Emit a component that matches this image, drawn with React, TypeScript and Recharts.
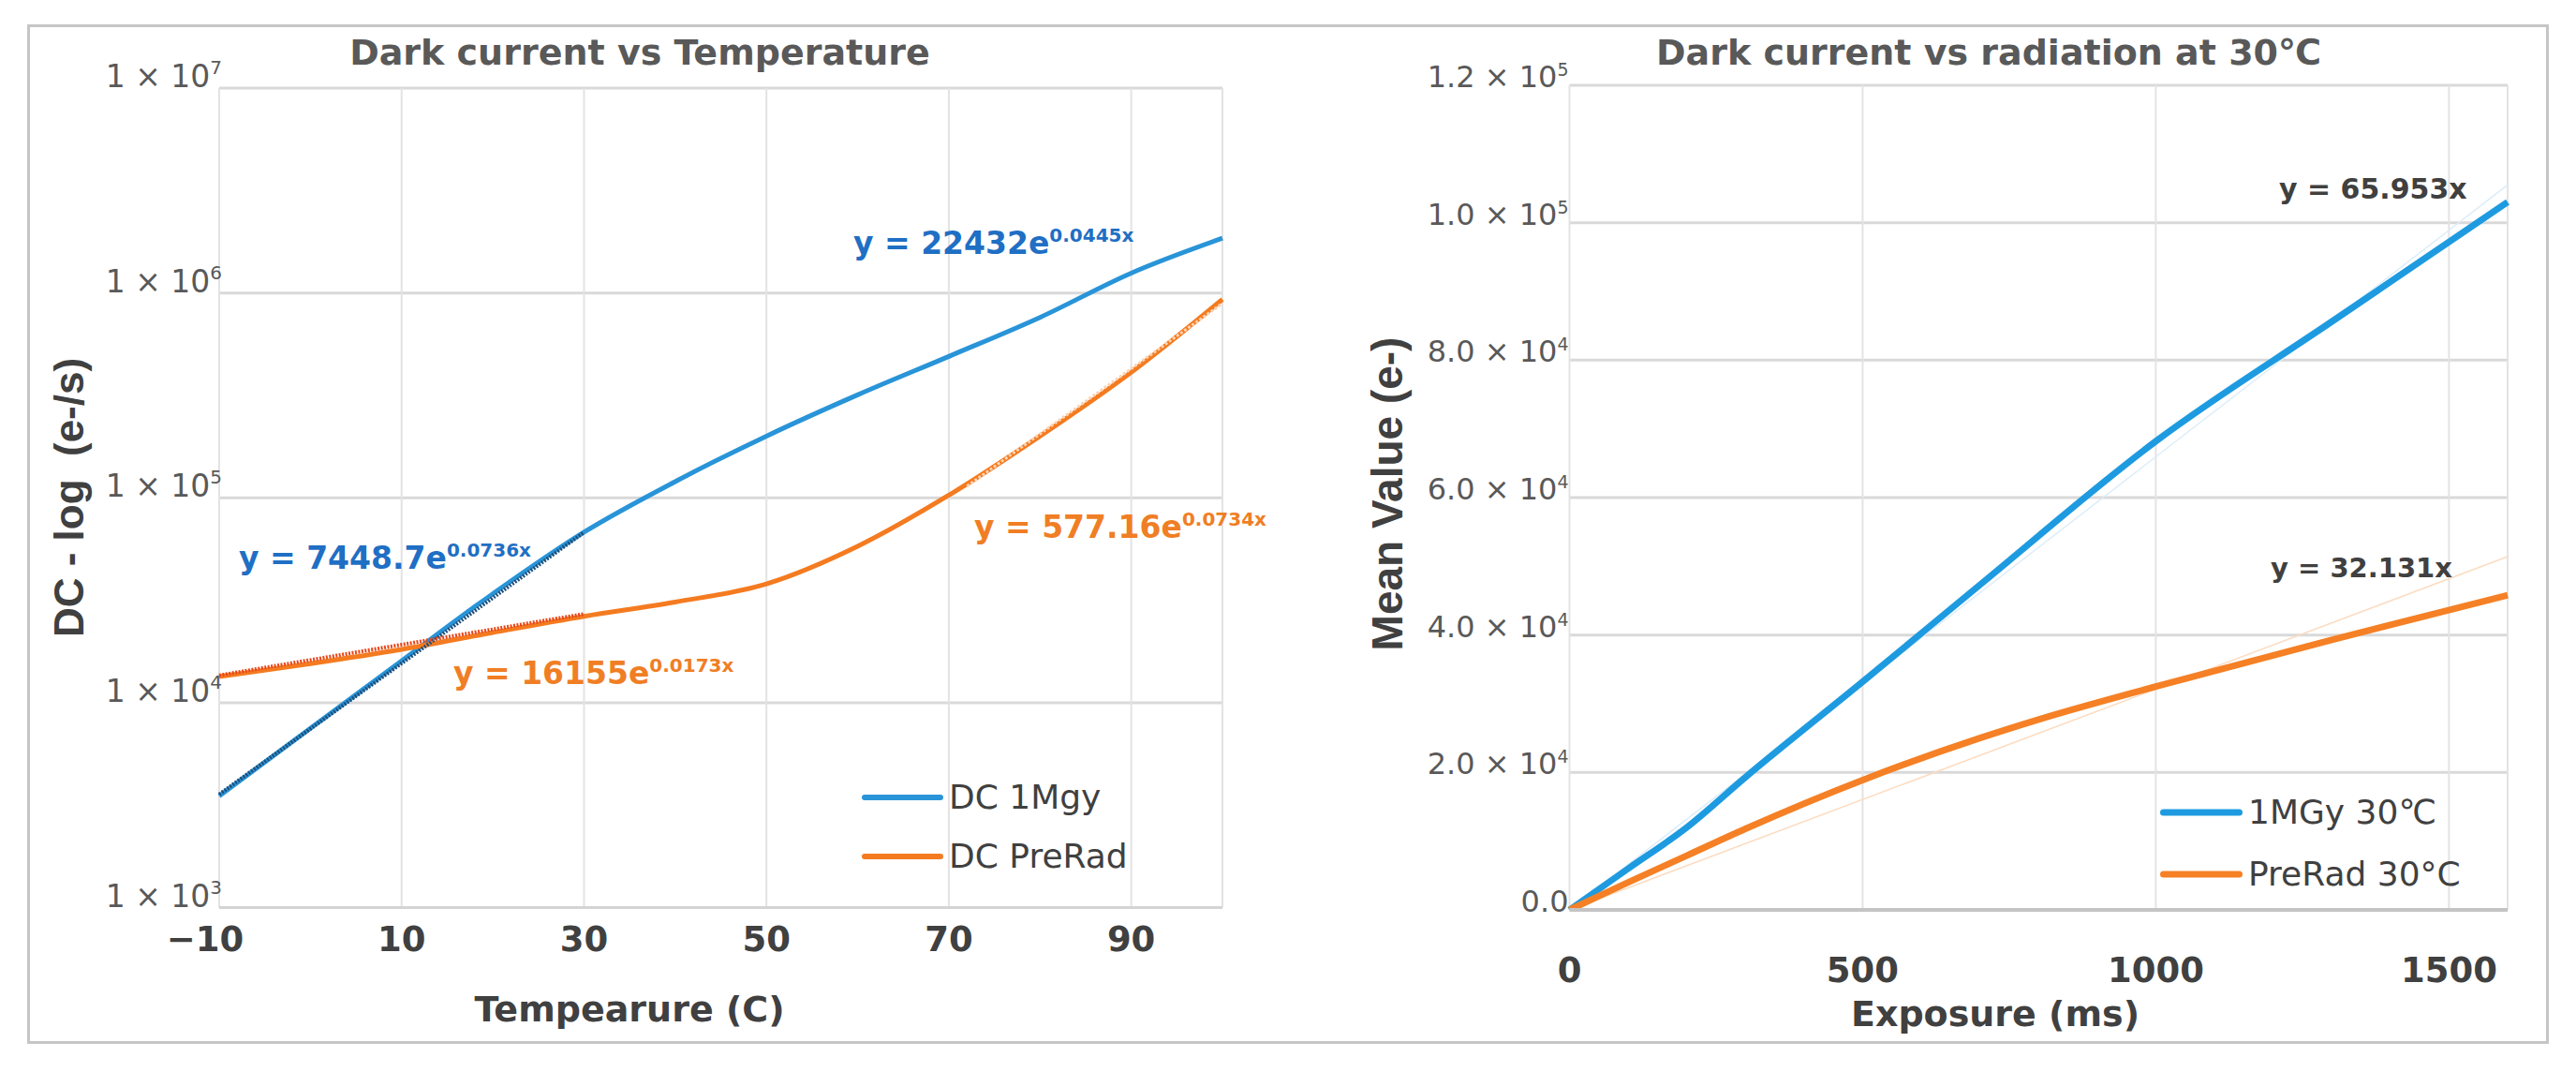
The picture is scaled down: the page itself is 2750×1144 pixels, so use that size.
import React from 'react';
import { LineChart, Line, XAxis, YAxis, CartesianGrid, Legend } from 'recharts';

// ---- left panel: dark current vs temperature (log axis) ----
const temperature = [-10, 0, 10, 20, 30, 40, 50, 60, 70, 80, 90, 100];
const dc1Mgy = [3500, 7500, 16000, 34000, 68000, 120000, 200000, 318000, 490000, 760000, 1250000, 1850000];
const dcPreRad = [13400, 15500, 18200, 22000, 26400, 31000, 38000, 58000, 103000, 200000, 410000, 930000];
const tempTicks = [-10, 10, 30, 50, 70, 90];
const logTicks = [1e3, 1e4, 1e5, 1e6, 1e7];

// trendline end points
const trendLowT = [-10, 30];
const trend1MgyLow = [3570, 67800];
const trendPreRadLow = [13600, 27100];
const trendHighT = [72, 100];
const trendPreRadHigh = [114000, 889000];

// ---- right panel: dark current vs radiation at 30C ----
const exposure1MGy = [0, 100, 200, 300, 500, 700, 1000, 1300, 1600];
const mean1MGy = [0, 6000, 12000, 19300, 33200, 47300, 68200, 85600, 103000];
const exposurePreRad = [0, 100, 200, 300, 500, 700, 800, 1000, 1300, 1600];
const meanPreRad = [0, 4000, 7900, 11800, 18900, 25000, 27700, 32500, 39300, 45800];
const trendExposure = [0, 1600];
const trend1MGy = [0, 105500];
const trendPreRad = [0, 51400];
const exposureTicks = [0, 500, 1000, 1500];
const meanTicks = [0, 20000, 40000, 60000, 80000, 100000, 120000];

type Pt = { x: number; y: number };
const zip = (xs: number[], ys: number[]): Pt[] => xs.map((x, i) => ({ x, y: ys[i] }));

const FONT = "'DejaVu Sans', 'Liberation Sans', sans-serif";
const ARIAL = "'Liberation Sans', Arial, sans-serif";
const BLUE_L = '#2994d8';
const ORANGE_L = '#f47b20';
const BLUE_R = '#1e9be0';
const ORANGE_R = '#f58025';
const EQ_BLUE = '#1f6fc4';
const EQ_ORANGE = '#f07e24';

function LogTick(props: any) {
  const { x, y, payload } = props;
  const exp = Math.round(Math.log10(payload.value));
  return (
    <text x={x + 3} y={y - 1} textAnchor="end" fontFamily={FONT} fontSize={33} fill="#595959">
      1 × 10<tspan fontSize={20} dy={-14}>{exp}</tspan>
    </text>
  );
}

function SciTick(props: any) {
  const { x, y, payload } = props;
  const v = payload.value as number;
  if (v === 0) {
    return (
      <text x={x - 1} y={y + 2} textAnchor="end" fontFamily={FONT} fontSize={32} fill="#595959">
        0.0
      </text>
    );
  }
  const exp = Math.floor(Math.log10(v) + 1e-9);
  const mant = (v / Math.pow(10, exp)).toFixed(1);
  return (
    <text x={x - 1} y={y + 2} textAnchor="end" fontFamily={FONT} fontSize={32} fill="#595959">
      {mant} × 10<tspan fontSize={19} dy={-12}>{exp}</tspan>
    </text>
  );
}

function TempTick(props: any) {
  const { x, y, payload } = props;
  const v = payload.value as number;
  return (
    <text x={x} y={y + 46} dx={v < 0 ? -15 : 0} textAnchor="middle" fontFamily={FONT} fontWeight="bold" fontSize={37} fill="#404040">
      {v < 0 ? `\u2212${-v}` : `${v}`}
    </text>
  );
}

function ExposureTick(props: any) {
  const { x, y, payload } = props;
  return (
    <text x={x} y={y + 77} textAnchor="middle" fontFamily={FONT} fontWeight="bold" fontSize={37} fill="#404040">
      {payload.value}
    </text>
  );
}

function SeriesLegend({ payload, rowHeight, sampleWidth, lineWidth, fontSize }: any) {
  // trendlines are left out of the legend
  const items = (payload || []).filter((e: any) => e.type !== 'none' && !String(e.value).startsWith('trend'));
  return (
    <div>
      {items.map((entry: any) => (
        <div key={entry.value} style={{ display: 'flex', alignItems: 'center', height: rowHeight }}>
          <svg width={sampleWidth} height={14} style={{ display: 'block' }}>
            <line
              x1={lineWidth / 2}
              y1={7}
              x2={sampleWidth - lineWidth / 2}
              y2={7}
              stroke={entry.color}
              strokeWidth={lineWidth}
              strokeLinecap="round"
            />
          </svg>
          <span style={{ marginLeft: 6, fontFamily: FONT, fontSize, color: '#404040', whiteSpace: 'nowrap', lineHeight: 1 }}>
            {entry.value}
          </span>
        </div>
      ))}
    </div>
  );
}

function TemperatureChart() {
  return (
    <LineChart width={1400} height={1144} margin={{ top: 94, right: 95, bottom: 145.5, left: 174 }}>
      <CartesianGrid vertical={false} stroke="#d9d9d9" strokeWidth={3} />
      <CartesianGrid horizontal={false} stroke="#e3e3e3" strokeWidth={2} />
      <XAxis
        type="number"
        dataKey="x"
        domain={[-10, 100]}
        ticks={tempTicks}
        tick={<TempTick />}
        tickLine={false}
        tickSize={0}
        tickMargin={0}
        axisLine={{ stroke: '#d4d4d4', strokeWidth: 3 }}
      />
      <YAxis
        type="number"
        scale="log"
        domain={[1000, 10000000]}
        ticks={logTicks}
        allowDataOverflow
        tick={<LogTick />}
        tickLine={false}
        tickSize={0}
        tickMargin={0}
        axisLine={false}
      />
      <Line data={zip(temperature, dc1Mgy)} dataKey="y" name="DC 1Mgy" type="monotone" stroke={BLUE_L} strokeWidth={5} dot={false} isAnimationActive={false} />
      <Line data={zip(temperature, dcPreRad)} dataKey="y" name="DC PreRad" type="monotone" stroke={ORANGE_L} strokeWidth={5} dot={false} isAnimationActive={false} />
      <Line data={zip(trendLowT, trend1MgyLow)} dataKey="y" name="trend 1Mgy low" type="linear" stroke="#1f4e79" strokeWidth={4} strokeDasharray="2 1.5" dot={false} legendType="none" isAnimationActive={false} />
      <Line data={zip(trendLowT, trendPreRadLow)} dataKey="y" name="trend PreRad low" type="linear" stroke="#e8481c" strokeWidth={4} strokeDasharray="2 1.5" dot={false} legendType="none" isAnimationActive={false} />
      <Line data={zip(trendHighT, trendPreRadHigh)} dataKey="y" name="trend PreRad high" type="linear" stroke="#fbd2b0" strokeWidth={3} strokeDasharray="3 2" dot={false} legendType="none" isAnimationActive={false} />
      <Legend
        layout="vertical"
        align="center"
        verticalAlign="middle"
        wrapperStyle={{ left: 920, top: 819, width: 'auto', height: 'auto' }}
        content={(p: any) => <SeriesLegend {...p} rowHeight={63} sampleWidth={87} lineWidth={6} fontSize={36} />}
      />
    </LineChart>
  );
}

function RadiationChart() {
  return (
    <LineChart width={1350} height={1144} margin={{ top: 91, right: 73, bottom: 143, left: 215.5 }}>
      <CartesianGrid vertical={false} stroke="#d9d9d9" strokeWidth={3} />
      <CartesianGrid horizontal={false} stroke="#e3e3e3" strokeWidth={2} />
      <XAxis
        type="number"
        dataKey="x"
        domain={[0, 1600]}
        ticks={exposureTicks}
        tick={<ExposureTick />}
        tickLine={false}
        tickSize={0}
        tickMargin={0}
        axisLine={{ stroke: '#c4c4c4', strokeWidth: 4 }}
      />
      <YAxis
        type="number"
        domain={[0, 120000]}
        ticks={meanTicks}
        allowDataOverflow
        tick={<SciTick />}
        tickLine={false}
        tickSize={0}
        tickMargin={0}
        axisLine={false}
      />
      <Line data={zip(trendExposure, trend1MGy)} dataKey="y" name="trend 1MGy" type="linear" stroke="#dcedf9" strokeWidth={1.5} dot={false} legendType="none" isAnimationActive={false} />
      <Line data={zip(trendExposure, trendPreRad)} dataKey="y" name="trend PreRad" type="linear" stroke="#fbdcc2" strokeWidth={1.5} dot={false} legendType="none" isAnimationActive={false} />
      <Line data={zip(exposure1MGy, mean1MGy)} dataKey="y" name="1MGy 30℃" type="monotone" stroke={BLUE_R} strokeWidth={7} dot={false} isAnimationActive={false} />
      <Line data={zip(exposurePreRad, meanPreRad)} dataKey="y" name="PreRad 30°C" type="monotone" stroke={ORANGE_R} strokeWidth={7} dot={false} isAnimationActive={false} />
      <Legend
        layout="vertical"
        align="center"
        verticalAlign="middle"
        wrapperStyle={{ left: 906, top: 834, width: 'auto', height: 'auto' }}
        content={(p: any) => <SeriesLegend {...p} rowHeight={66} sampleWidth={88} lineWidth={7} fontSize={36} />}
      />
    </LineChart>
  );
}

export default function App() {
  return (
    <div style={{ position: 'absolute', left: 0, top: 0, width: 2750, height: 1144, background: '#fff', overflow: 'hidden' }}>
      <div
        style={{
          position: 'absolute',
          left: 29,
          top: 26,
          width: 2692,
          height: 1088,
          border: '3px solid #c6c6c6',
          boxSizing: 'border-box',
        }}
      />
      <div style={{ position: 'absolute', left: 0, top: 0 }}>
        <TemperatureChart />
      </div>
      <div style={{ position: 'absolute', left: 1400, top: 0 }}>
        <RadiationChart />
      </div>
      <svg width={2750} height={1144} style={{ position: 'absolute', left: 0, top: 0, pointerEvents: 'none' }}>
        <text x={683} y={69} textAnchor="middle" fontFamily={FONT} fontWeight="bold" fontSize={38} fill="#595959">
          Dark current vs Temperature
        </text>
        <text x={2123} y={69} textAnchor="middle" fontFamily={FONT} fontWeight="bold" fontSize={38} fill="#595959">
          Dark current vs radiation at 30℃
        </text>
        <text x={89} y={531} transform="rotate(-90 89 531)" textAnchor="middle" fontFamily={ARIAL} fontWeight="bold" fontSize={44} fill="#404040">
          {'DC - log\u00a0\u00a0(e-/s)'}
        </text>
        <text x={1497} y={527} transform="rotate(-90 1497 527)" textAnchor="middle" fontFamily={ARIAL} fontWeight="bold" fontSize={46} fill="#404040">
          Mean Value (e-)
        </text>
        <text x={672} y={1090} textAnchor="middle" fontFamily={FONT} fontWeight="bold" fontSize={38} fill="#404040">
          Tempearure (C)
        </text>
        <text x={2130} y={1095} textAnchor="middle" fontFamily={FONT} fontWeight="bold" fontSize={38} fill="#404040">
          Exposure (ms)
        </text>

        <g fontFamily={FONT} fontWeight="bold" fontSize={33}>
          <text x={911} y={271} fill={EQ_BLUE}>
            y = 22432e<tspan fontSize={20} dy={-13}>0.0445x</tspan>
          </text>
          <text x={255} y={607} fill={EQ_BLUE}>
            y = 7448.7e<tspan fontSize={20} dy={-13}>0.0736x</tspan>
          </text>
          <text x={484} y={730} fill={EQ_ORANGE}>
            y = 16155e<tspan fontSize={20} dy={-13}>0.0173x</tspan>
          </text>
          <text x={1040} y={574} fill={EQ_ORANGE}>
            y = 577.16e<tspan fontSize={20} dy={-13}>0.0734x</tspan>
          </text>
        </g>
        <text x={2433} y={212} fontFamily={FONT} fontWeight="bold" fontSize={30} fill="#404040">
          y = 65.953x
        </text>
        <text x={2424} y={616} fontFamily={FONT} fontWeight="bold" fontSize={29} fill="#404040">
          y = 32.131x
        </text>
      </svg>
    </div>
  );
}
